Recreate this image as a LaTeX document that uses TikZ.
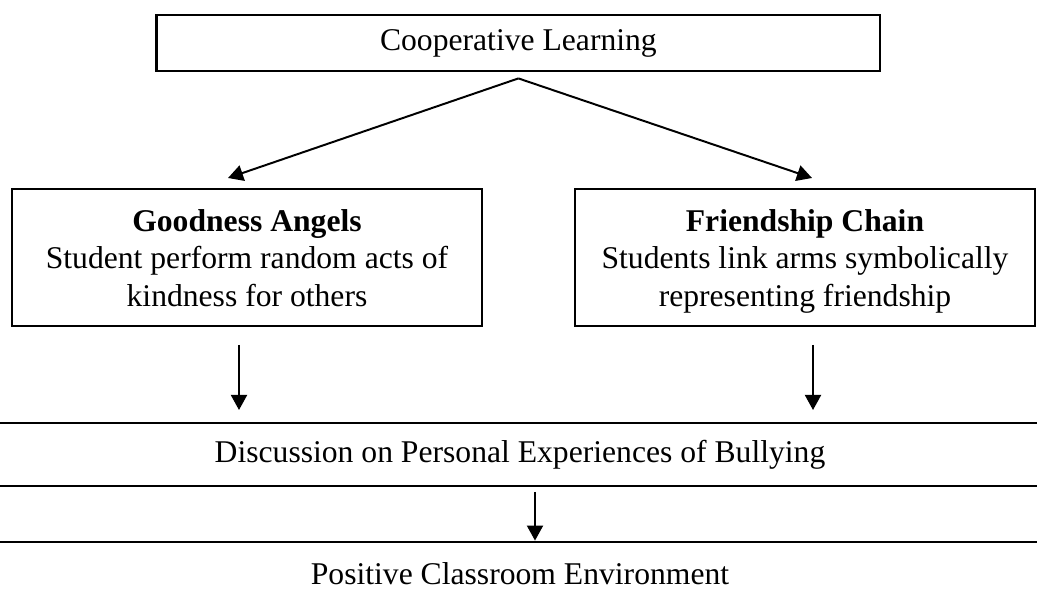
\documentclass[tikz,border=0pt]{standalone}
\usepackage{fontspec}
\setmainfont{Liberation Serif}
\usetikzlibrary{arrows.meta}

\begin{document}
\begin{tikzpicture}[every node/.style={font=\fontsize{22.5pt}{26.5pt}\selectfont},
		box/.style={draw, line width=2pt, align=center, inner sep=0pt},
		freccia/.style={line width=1.4pt, -{Triangle[width=11.4pt,length=10.7pt]}}]
				\useasboundingbox (0,0) rectangle (25.925,14.75);
				
				% Riquadro in alto
				\node[box, minimum width=18.075cm, minimum height=1.4cm] (coop) at (12.96,13.675) {Cooperative Learning};
				
				% Le due attivita
				\node[box, minimum width=11.75cm, minimum height=3.425cm] (goodness) at (6.175,8.3125)
					{\rule{0pt}{24pt}\textbf{Goodness Angels}\\Student perform random acts of\\kindness for others\strut};
				\node[box, minimum width=11.5cm, minimum height=3.425cm] (friendship) at (20.125,8.3125)
					{\rule{0pt}{24pt}\textbf{Friendship Chain}\\Students link arms symbolically\\representing friendship\strut};
				
				% Riquadri in basso (piu larghi della pagina)
				\node[box, minimum width=28cm, minimum height=1.575cm] (discussion) at (13,3.3875)
					{Discussion on Personal Experiences of Bullying};
				\node[box, minimum width=28cm, minimum height=1.575cm] (positive) at (13,0.4125)
					{Positive Classroom Environment};
				
				% Frecce dal riquadro in alto
				\coordinate (apice) at ([yshift=-0.15cm]coop.south);
				\coordinate (puntaG) at (5.7,10.3);
				\coordinate (puntaF) at (20.3,10.3);
				\draw[freccia] (apice) -- (puntaG);
				\draw[freccia] (apice) -- (puntaF);
				
				% Frecce verticali
				\coordinate (inizioG) at (5.975,6.125);
				\coordinate (fineG) at (5.975,4.5);
				\coordinate (inizioF) at (20.325,6.125);
				\coordinate (fineF) at (20.325,4.5);
				\coordinate (inizioC) at (13.375,2.45);
				\draw[freccia] (inizioG) -- (fineG);
				\draw[freccia] (inizioF) -- (fineF);
				\draw[freccia] (inizioC) -- (inizioC |- positive.north);
			\end{tikzpicture}
\end{document}
